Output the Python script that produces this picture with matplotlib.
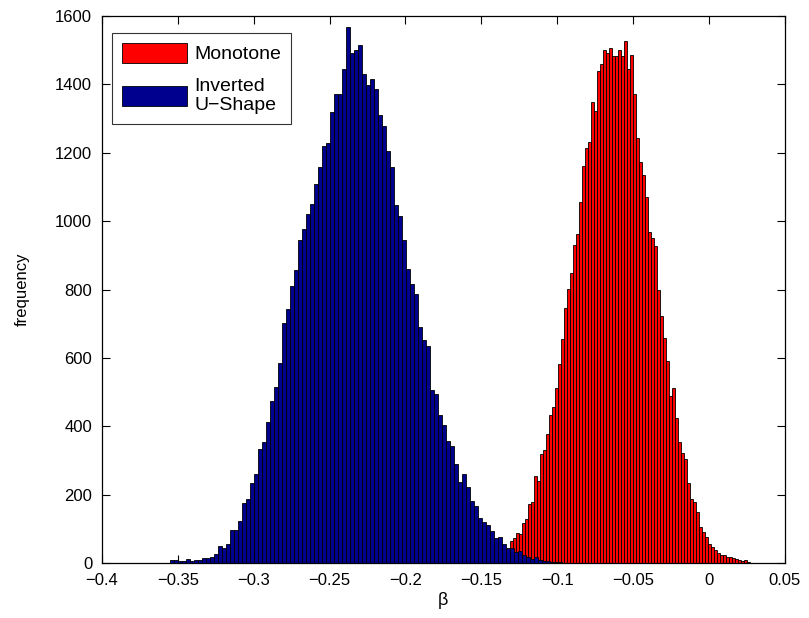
import matplotlib
matplotlib.use("Agg")
import matplotlib.pyplot as plt
import numpy as np

plt.rcParams['font.family'] = ['Liberation Sans', 'DejaVu Sans']

# Inverted U-Shape (blue) histogram counts, bins of equal width
blue_start = -0.3552
blue_width = 0.002635
blue_counts = [8, 8, 5, 6, 13, 5, 9, 10, 15, 15, 18, 26, 51, 43, 55, 96, 96, 124, 175, 188,
               233, 260, 334, 353, 412, 473,
               516, 586, 701, 742, 810, 857, 944, 977, 1022, 1050, 1110, 1159, 1219, 1229,
               1318, 1373, 1373, 1444,
               1569, 1491, 1501, 1516, 1431, 1398, 1415, 1386, 1310, 1279, 1204, 1158, 1047,
               1014, 944, 861, 816, 786, 690, 651, 636, 506, 495, 432, 403, 357, 342, 289,
               237, 260, 222, 181,
               167, 132, 121, 112, 94, 72, 76, 56, 45, 43, 31, 35, 22, 19, 13, 19,
               8, 6, 5, 4, 2, 2, 1]

# Monotone (red) histogram counts
red_start = -0.1312
red_width = 0.001977
red_counts = [63, 72, 87, 85, 116, 128, 173, 177, 255, 241, 318, 332, 376, 432, 457, 513,
              581, 655, 747, 801, 847, 930, 961, 1057, 1161, 1213, 1233, 1348, 1323, 1439,
              1460, 1500, 1493, 1507, 1482, 1482, 1501, 1483, 1528, 1444, 1485, 1373, 1244,
              1172, 1136, 1071, 968, 951, 927, 798, 723, 657, 592, 490, 511, 423, 354, 322,
              304, 233, 188, 178, 150, 105, 91, 76, 56, 47, 38, 30, 24, 23, 18, 18, 15, 11,
              8, 6, 8, 4]

x_ticks = [-0.4, -0.35, -0.3, -0.25, -0.2, -0.15, -0.1, -0.05, 0, 0.05]
x_tick_labels = ['\u22120.4', '\u22120.35', '\u22120.3', '\u22120.25', '\u22120.2',
                 '\u22120.15', '\u22120.1', '\u22120.05', '0', '0.05']
y_ticks = [0, 200, 400, 600, 800, 1000, 1200, 1400, 1600]

fig = plt.figure(figsize=(8.09, 6.18), dpi=100)
ax = fig.add_axes([0.126, 0.089, 0.844, 0.885])

red_left = red_start + red_width * np.arange(len(red_counts))
blue_left = blue_start + blue_width * np.arange(len(blue_counts))

ax.bar(red_left, red_counts, width=red_width, align='edge', color='#FF0000',
       edgecolor='black', linewidth=0.6, zorder=2, label='Monotone')
ax.bar(blue_left, blue_counts, width=blue_width, align='edge', color='#00008F',
       edgecolor='black', linewidth=0.6, zorder=3, label='Inverted\nU\u2212Shape')

ax.set_xlim(-0.4, 0.05)
ax.set_ylim(0, 1600)
ax.set_xticks(x_ticks)
ax.set_xticklabels(x_tick_labels)
ax.set_yticks(y_ticks)
ax.tick_params(direction='in', top=True, right=True, length=6, width=0.8, labelsize=12)
ax.tick_params(axis='x', pad=7)
ax.tick_params(axis='y', pad=7)
for s in ax.spines.values():
    s.set_linewidth(0.9)
ax.set_xlabel('\u03b2', fontsize=13, labelpad=3)
ax.set_ylabel('frequency', fontsize=12, labelpad=18)

leg = ax.legend(loc='upper left', bbox_to_anchor=(0.0146, 0.969), fontsize=14,
                handlelength=3.35, handleheight=1.2, frameon=True, fancybox=False,
                borderpad=0.5, labelspacing=0.75, handletextpad=0.4, borderaxespad=0.0)
leg.get_frame().set_edgecolor('black')
leg.get_frame().set_linewidth(0.8)

fig.savefig('out.png', dpi=100)
